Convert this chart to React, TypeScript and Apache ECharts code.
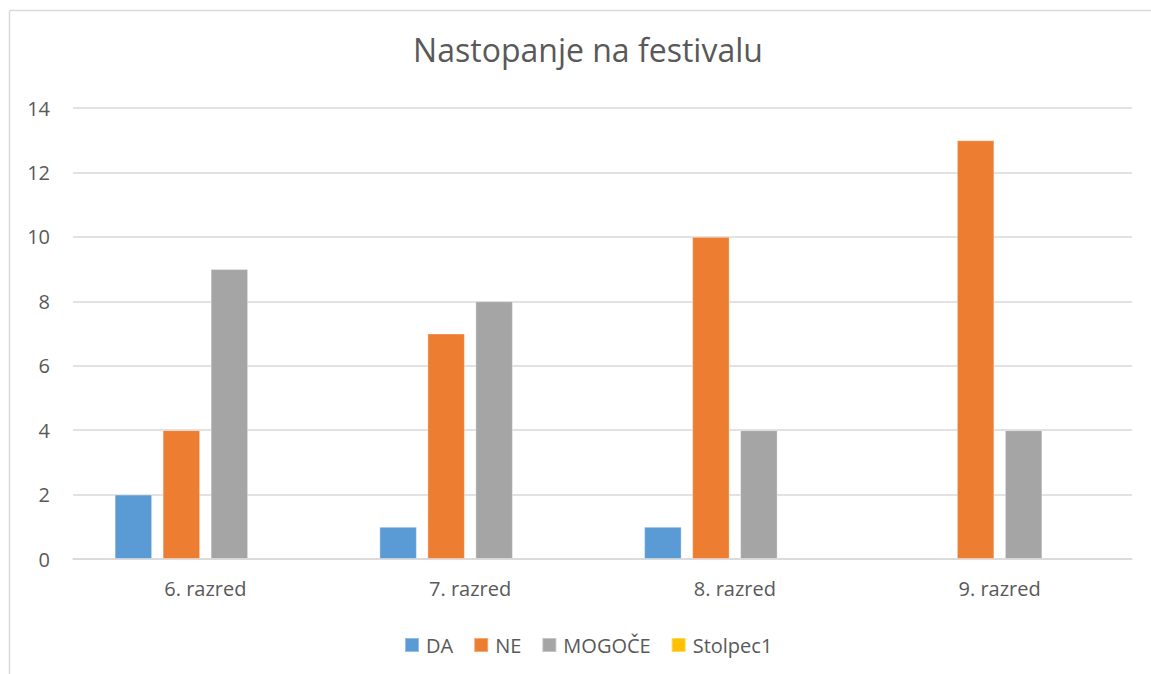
import React, { useEffect, useRef } from "react";
import * as echarts from "echarts";

const categories = ["6. razred", "7. razred", "8. razred", "9. razred"];
const seriesNames = ["DA", "NE", "MOGOČE", "Stolpec1"];
const daValues: (number | null)[] = [2, 1, 1, null];
const neValues: (number | null)[] = [4, 7, 10, 13];
const mogoceValues: (number | null)[] = [9, 8, 4, 4];
const stolpec1Values: (number | null)[] = [null, null, null, null];
const colors = ["#5B9BD5", "#ED7D31", "#A5A5A5", "#FFC000"];
const yTicks = { min: 0, max: 14, interval: 2 };

const FONT = "'Open Sans'";
const TEXT = "#595959";

export default function App() {
  const ref = useRef<HTMLDivElement>(null);
  useEffect(() => {
    if (!ref.current) return;
    const chart = echarts.init(ref.current, undefined, { renderer: "svg" });
    const values = [daValues, neValues, mogoceValues, stolpec1Values];
    chart.setOption({
      animation: false,
      backgroundColor: "#ffffff",
      title: {
        text: "Nastopanje na festivalu",
        left: 583,
        top: 28,
        textAlign: "center",
        textStyle: { fontFamily: FONT, fontSize: 32, fontWeight: "normal", color: TEXT },
      },
      graphic: [
        { type: "line", shape: { x1: 9.5, y1: 10.5, x2: 1151, y2: 10.5 }, style: { stroke: "#d9d9d9", lineWidth: 1.5 } },
        { type: "line", shape: { x1: 9.5, y1: 10.5, x2: 9.5, y2: 674 }, style: { stroke: "#d9d9d9", lineWidth: 1.5 } },
      ],
      legend: {
        data: seriesNames,
        top: 630,
        left: 399,
        itemWidth: 14,
        itemHeight: 14,
        itemGap: 20,
        icon: "rect",
        textStyle: { fontFamily: FONT, fontSize: 20, color: TEXT, padding: [0, 0, 0, 2] },
      },
      grid: { left: 73, right: 19, top: 108, bottom: 115, containLabel: false },
      xAxis: {
        type: "category",
        data: categories,
        axisLine: { lineStyle: { color: "#d9d9d9", width: 1.5 } },
        axisTick: { show: false },
        axisLabel: { fontFamily: FONT, fontSize: 20, color: TEXT, margin: 19 },
      },
      yAxis: {
        type: "value",
        min: yTicks.min,
        max: yTicks.max,
        interval: yTicks.interval,
        axisLine: { show: false },
        axisTick: { show: false },
        splitLine: { lineStyle: { color: "#d9d9d9", width: 1.5 } },
        axisLabel: { fontFamily: FONT, fontSize: 20, color: TEXT, margin: 23 },
      },
      series: seriesNames.map((name, i) => ({
        name,
        type: "bar",
        data: values[i],
        barWidth: 37.5,
        barGap: "28%",
        itemStyle: { color: colors[i], borderColor: "rgba(255,255,255,0.35)", borderWidth: 1 },
      })),
    });
    return () => chart.dispose();
  }, []);
  return (
    <div
      ref={ref}
      style={{ position: "fixed", left: 0, top: 0, width: 1151, height: 674, background: "#ffffff" }}
    />
  );
}
